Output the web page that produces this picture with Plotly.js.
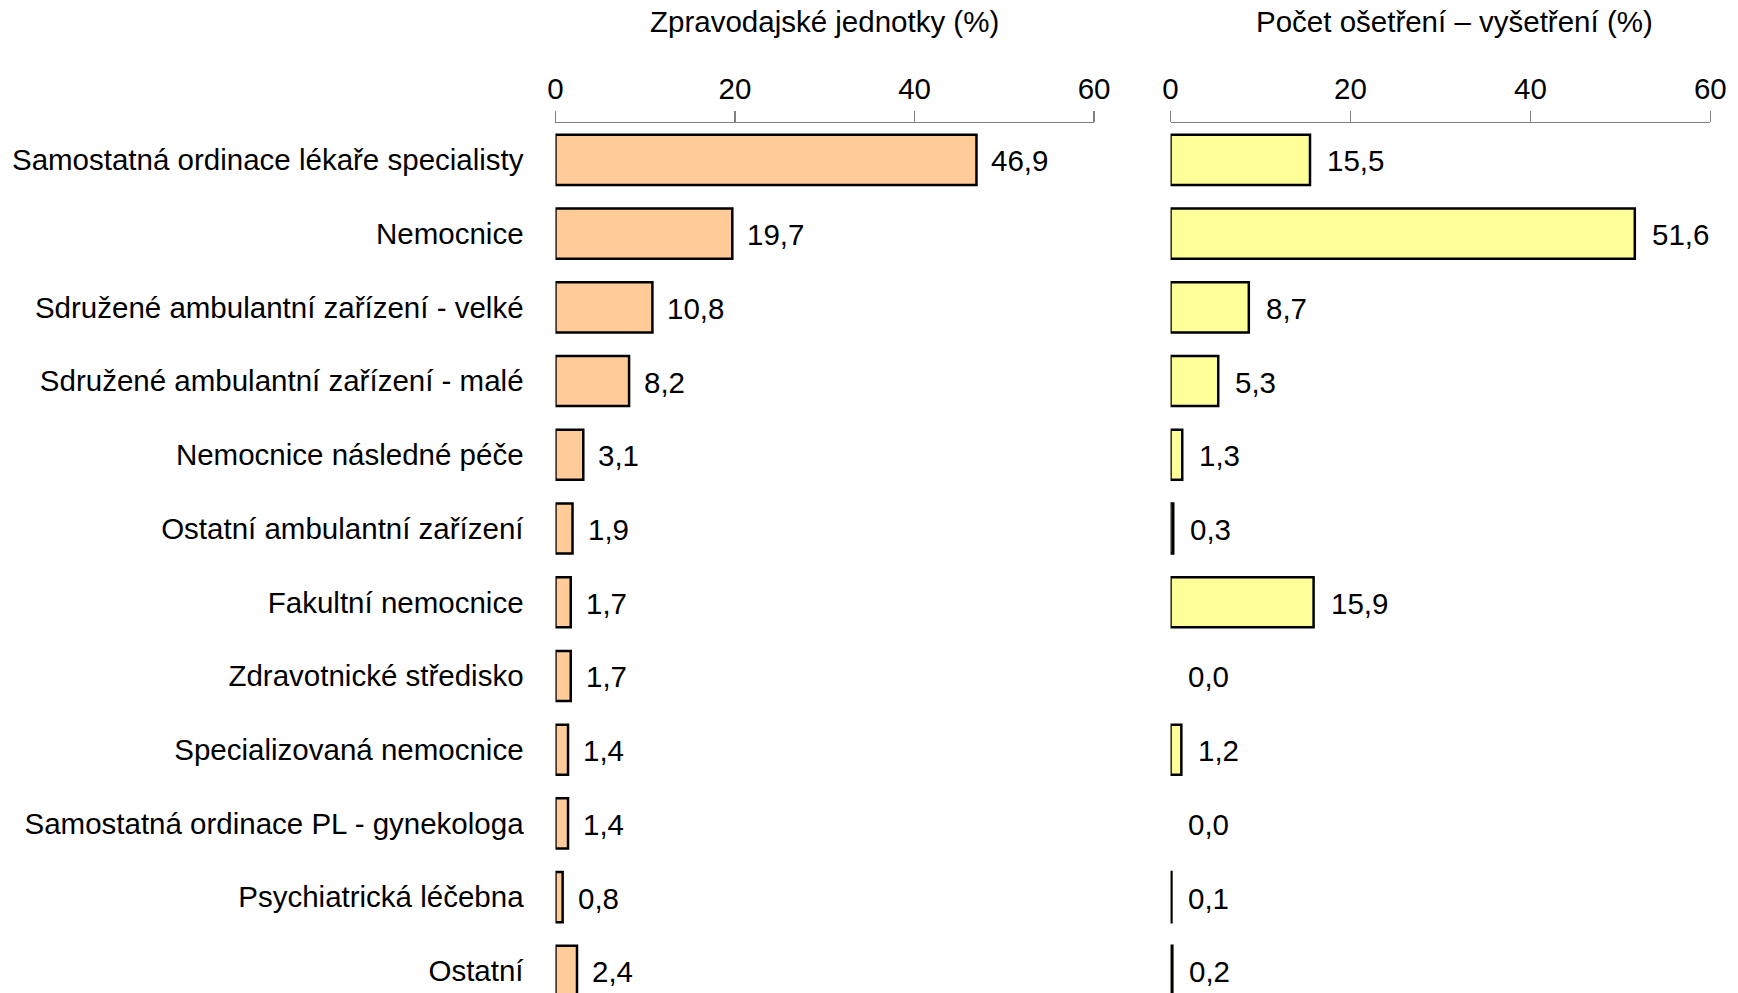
<!DOCTYPE html>
<html>
<head>
<meta charset="utf-8">
<script src="https://cdn.plot.ly/plotly-3.0.1.min.js"></script>
<style>html,body{margin:0;padding:0;background:#fff;}#chart{width:1738px;height:993px;}</style>
</head>
<body>
<div id="chart"></div>
<script>
const categories = [
  "Samostatná ordinace lékaře specialisty",
  "Nemocnice",
  "Sdružené ambulantní zařízení - velké",
  "Sdružené ambulantní zařízení - malé",
  "Nemocnice následné péče",
  "Ostatní ambulantní zařízení",
  "Fakultní nemocnice",
  "Zdravotnické středisko",
  "Specializovaná nemocnice",
  "Samostatná ordinace PL - gynekologa",
  "Psychiatrická léčebna",
  "Ostatní"
];
const jednotky = [46.9, 19.7, 10.8, 8.2, 3.1, 1.9, 1.7, 1.7, 1.4, 1.4, 0.8, 2.4];
const osetreni = [15.5, 51.6, 8.7, 5.3, 1.3, 0.3, 15.9, 0.0, 1.2, 0.0, 0.1, 0.2];
const tickVals = [0, 20, 40, 60];
const titleLeft = "Zpravodajské jednotky (%)";
const titleRight = "Počet ošetření – vyšetření (%)";

const FONT = "Liberation Sans, Arial, sans-serif";
const FS = 29.5;
const fmt = v => v.toFixed(1).replace('.', ',');

const traces = [
  {
    type: 'bar', orientation: 'h', x: jednotky, y: categories,
    xaxis: 'x', yaxis: 'y', width: 0.68,
    marker: {color: '#FFCC99', line: {color: '#000', width: jednotky.map(v => v > 0 ? 2.5 : 0)}},
    hoverinfo: 'none'
  },
  {
    type: 'bar', orientation: 'h', x: osetreni, y: categories,
    xaxis: 'x2', yaxis: 'y2', width: 0.68,
    marker: {color: '#FFFF99', line: {color: '#000', width: osetreni.map(v => v > 0 ? 2.5 : 0)}},
    hoverinfo: 'none'
  }
];

const H = 993, mt = 123, mb = 0;
const titleY = 1 + (mt - 22) / (H - mt - mb);

const annotations = [];
categories.forEach((c, i) => {
  annotations.push({x: jednotky[i], y: c, xref: 'x', yref: 'y', text: fmt(jednotky[i]),
    showarrow: false, xanchor: 'left', yanchor: 'middle', xshift: 13, yshift: -1, font: {family: FONT, size: FS, color: '#000'}});
  annotations.push({x: osetreni[i], y: c, xref: 'x2', yref: 'y2', text: fmt(osetreni[i]),
    showarrow: false, xanchor: 'left', yanchor: 'middle', xshift: 15, yshift: -1, font: {family: FONT, size: FS, color: '#000'}});
});
annotations.push({x: 0.4746, y: titleY, xref: 'paper', yref: 'paper', xanchor: 'center', yanchor: 'middle', text: titleLeft, showarrow: false,
  font: {family: FONT, size: FS, color: '#000'}});
annotations.push({x: 0.8368, y: titleY, xref: 'paper', yref: 'paper', xanchor: 'center', yanchor: 'middle', text: titleRight, showarrow: false,
  font: {family: FONT, size: FS, color: '#000'}});

const xaxisBase = {
  side: 'top', range: [0, 60], tickvals: tickVals, ticks: 'outside', ticklen: 11,
  tickcolor: '#808080', tickwidth: 1.5, showline: true, linecolor: '#808080', linewidth: 1.5,
  showgrid: false, zeroline: false, fixedrange: true,
  tickfont: {family: FONT, size: FS, color: '#000'}
};

const layout = {
  width: 1738, height: 993,
  margin: {l: 0, r: 0, t: mt, b: mb},
  paper_bgcolor: '#fff', plot_bgcolor: '#fff',
  separators: ', ',
  showlegend: false,
  font: {family: FONT, size: FS, color: '#000'},
  xaxis: Object.assign({}, xaxisBase, {domain: [0.3196, 0.6295], anchor: 'y'}),
  xaxis2: Object.assign({}, xaxisBase, {domain: [0.6735, 0.9841], anchor: 'y2'}),
  yaxis: {
    type: 'category', categoryorder: 'array', categoryarray: categories,
    range: [11.3, -0.5], domain: [0, 1], anchor: 'x',
    showline: false, showgrid: false, zeroline: false, fixedrange: true,
    ticks: 'outside', ticklen: 25, tickcolor: 'rgba(0,0,0,0)',
    tickfont: {family: FONT, size: FS, color: '#000'}
  },
  yaxis2: {
    type: 'category', categoryorder: 'array', categoryarray: categories,
    range: [11.3, -0.5], domain: [0, 1], anchor: 'x2',
    showline: false, showgrid: false, zeroline: false, fixedrange: true,
    showticklabels: false, ticks: ''
  },
  annotations: annotations
};

Plotly.newPlot('chart', traces, layout, {displayModeBar: false, staticPlot: true});
</script>
</body>
</html>
